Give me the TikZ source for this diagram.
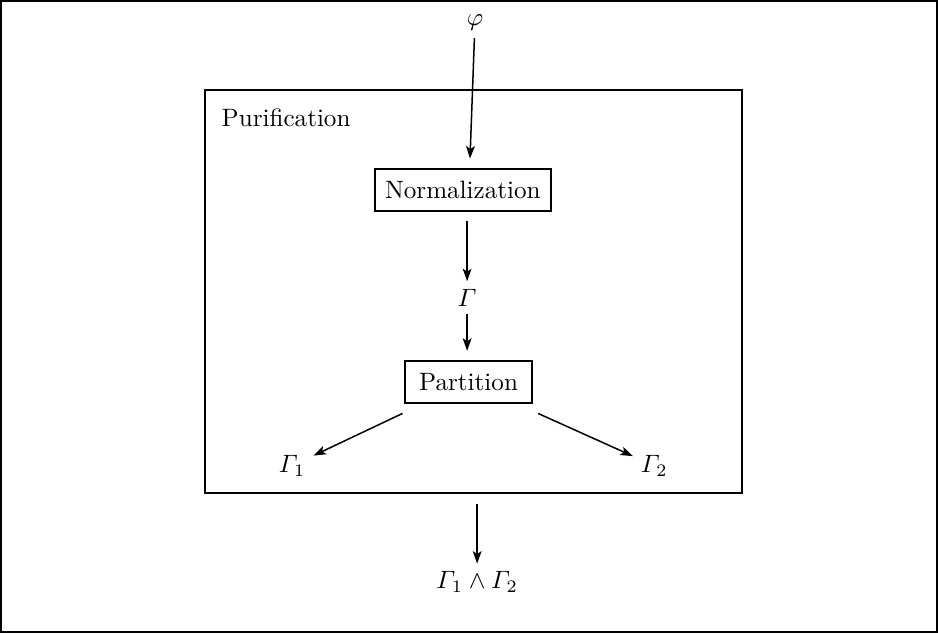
\documentclass[tikz,border=0pt]{standalone}
\usepackage{amsmath,amssymb}
\usepackage{tikz}
\usetikzlibrary{positioning,arrows.meta,calc}
\tikzset{
    every edge/.style={draw,-{Stealth[length=5pt,width=3.5pt,inset=1.2pt]},semithick},
    stage/.style={draw,thick,rectangle,inner xsep=4pt,inner ysep=5pt,outer sep=4pt},
    term/.style={inner sep=3pt},
    frame/.style={draw,thick},
}

\begin{document}
\begin{tikzpicture}
    \useasboundingbox (0,0) rectangle (13.132,-8.862);
    \draw[thick] (0.02,-0.02) rectangle (13.112,-8.842);

    \node[frame,minimum width=7.52cm,minimum height=5.64cm] (pur) at (6.63,-4.08) {};
    \node[anchor=west] (purlbl) at (2.98,-1.65) {Purification};

    \node[term] (phi) at (6.65,-0.31) {$\varphi$};
    \node[stage] (norm) at (6.48,-2.66) {Normalization};
    \node[term] (gam) at (6.54,-4.17) {$\varGamma$};
    \node[stage,inner xsep=5.5pt] (part) at (6.56,-5.35) {Partition};
    \node[term] (gam1) at (4.09,-6.52) {$\varGamma_1$};
    \node[term] (gam2) at (9.16,-6.52) {$\varGamma_2$};
    \node[term] (res) at (6.68,-8.15) {$\varGamma_1\wedge\varGamma_2$};

    \path
    (phi) edge ([xshift=0.1cm]norm.north)
    (norm.south -| gam) edge (gam)
    (gam) edge (gam |- part.north)
    (part) edge (gam1)
    (part) edge (gam2)
    ([yshift=-0.14cm]pur.south -| res) edge (res);
\end{tikzpicture}
\end{document}
